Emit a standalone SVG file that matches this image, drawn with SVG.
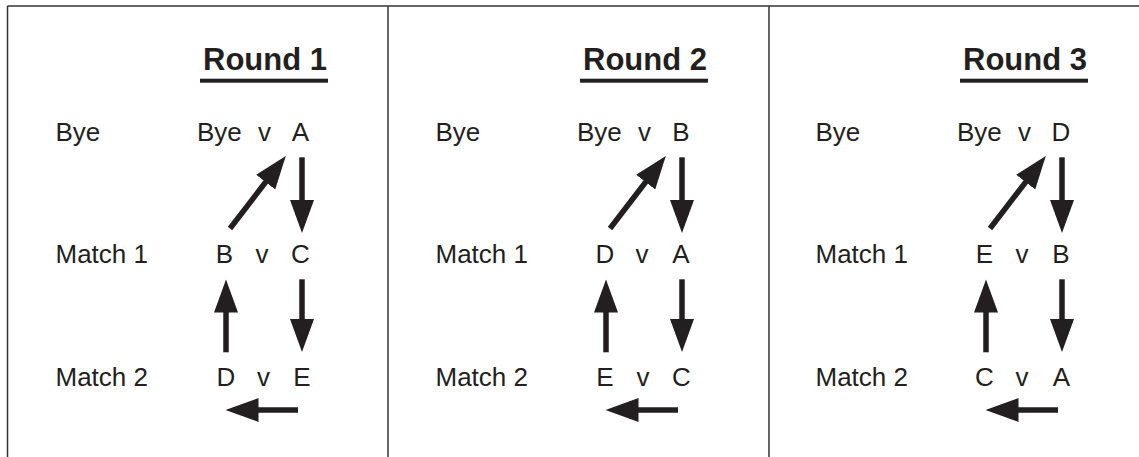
<svg xmlns="http://www.w3.org/2000/svg" width="1139" height="457" viewBox="0 0 1139 457">
<style>
  .t { font-family: "Liberation Sans", Arial, sans-serif; font-size: 26px; fill: #231f20; }
  .m { text-anchor: middle; }
  .title { font-family: "Liberation Sans", Arial, sans-serif; font-size: 31px; font-weight: bold; fill: #231f20; text-anchor: middle; }
  .frame { stroke: #333; stroke-width: 1.5; fill: none; }
  .ul { fill: #231f20; }
  .arr { stroke: #231f20; stroke-width: 5.5; fill: none; marker-end: url(#head); }
</style>
<defs>
  <marker id="head" markerUnits="userSpaceOnUse" markerWidth="34" markerHeight="25" viewBox="0 -12.5 34 25" refX="1" refY="0" orient="auto">
    <path d="M0,-12 L33,0 L0,12 Z" fill="#231f20"/>
  </marker>
</defs>
<rect width="1139" height="457" fill="#fff"/>
<g id="frame" class="frame">
  <line x1="7.5" y1="6" x2="1139" y2="6"/>
  <line x1="7.5" y1="6" x2="7.5" y2="457"/>
  <line x1="388" y1="6" x2="388" y2="457"/>
  <line x1="769" y1="6" x2="769" y2="457"/>
</g>
<g id="round1">
  <g id="r1-title"><text class="title" x="265" y="69.5">Round 1</text><rect class="ul" x="200" y="78.7" width="128" height="4"/></g>
  <g id="r1-lbl-bye"><text class="t" x="55.5" y="141">Bye</text></g>
  <g id="r1-lbl-m1"><text class="t" x="55.5" y="263.3">Match 1</text></g>
  <g id="r1-lbl-m2"><text class="t" x="55.5" y="385.7">Match 2</text></g>
  <g id="r1-bye"><text class="t" x="197" y="141">Bye</text><text class="t m" x="264.5" y="141">v</text><text class="t m" x="300.5" y="141">A</text></g>
  <g id="r1-m1"><text class="t m" x="224.5" y="263.3">B</text><text class="t m" x="262" y="263.3">v</text><text class="t m" x="300.5" y="263.3">C</text></g>
  <g id="r1-m2"><text class="t m" x="226" y="385.7">D</text><text class="t m" x="263.5" y="385.7">v</text><text class="t m" x="302" y="385.7">E</text></g>
</g>
<g id="round2" transform="translate(380,0)">
  <g id="r2-title"><text class="title" x="265" y="69.5">Round 2</text><rect class="ul" x="200" y="78.7" width="128" height="4"/></g>
  <g id="r2-lbl-bye"><text class="t" x="55.5" y="141">Bye</text></g>
  <g id="r2-lbl-m1"><text class="t" x="55.5" y="263.3">Match 1</text></g>
  <g id="r2-lbl-m2"><text class="t" x="55.5" y="385.7">Match 2</text></g>
  <g id="r2-bye"><text class="t" x="197" y="141">Bye</text><text class="t m" x="264.5" y="141">v</text><text class="t m" x="301" y="141">B</text></g>
  <g id="r2-m1"><text class="t m" x="225" y="263.3">D</text><text class="t m" x="262" y="263.3">v</text><text class="t m" x="301" y="263.3">A</text></g>
  <g id="r2-m2"><text class="t m" x="225" y="385.7">E</text><text class="t m" x="263" y="385.7">v</text><text class="t m" x="301.5" y="385.7">C</text></g>
</g>
<g id="round3" transform="translate(760,0)">
  <g id="r3-title"><text class="title" x="265" y="69.5">Round 3</text><rect class="ul" x="200" y="78.7" width="128" height="4"/></g>
  <g id="r3-lbl-bye"><text class="t" x="55.5" y="141">Bye</text></g>
  <g id="r3-lbl-m1"><text class="t" x="55.5" y="263.3">Match 1</text></g>
  <g id="r3-lbl-m2"><text class="t" x="55.5" y="385.7">Match 2</text></g>
  <g id="r3-bye"><text class="t" x="197" y="141">Bye</text><text class="t m" x="264.5" y="141">v</text><text class="t m" x="301" y="141">D</text></g>
  <g id="r3-m1"><text class="t m" x="224.5" y="263.3">E</text><text class="t m" x="262" y="263.3">v</text><text class="t m" x="301" y="263.3">B</text></g>
  <g id="r3-m2"><text class="t m" x="224.5" y="385.7">C</text><text class="t m" x="262" y="385.7">v</text><text class="t m" x="301.5" y="385.7">A</text></g>
</g>
<g id="connectors">
  <g id="c1">
    <path class="arr" d="M302,157.3 L302,201"/>
    <path class="arr" d="M302,279.3 L302,320"/>
    <path class="arr" d="M226,352.3 L226,311.5"/>
    <path class="arr" d="M298,410 L257.5,410"/>
    <path class="arr" d="M230,228.5 L266.3,181.3"/>
  </g>
  <g id="c2" transform="translate(380,0)">
    <path class="arr" d="M302,157.3 L302,201"/>
    <path class="arr" d="M302,279.3 L302,320"/>
    <path class="arr" d="M226,352.3 L226,311.5"/>
    <path class="arr" d="M298,410 L257.5,410"/>
    <path class="arr" d="M230,228.5 L266.3,181.3"/>
  </g>
  <g id="c3" transform="translate(760,0)">
    <path class="arr" d="M302,157.3 L302,201"/>
    <path class="arr" d="M302,279.3 L302,320"/>
    <path class="arr" d="M226,352.3 L226,311.5"/>
    <path class="arr" d="M298,410 L257.5,410"/>
    <path class="arr" d="M230,228.5 L266.3,181.3"/>
  </g>
</g>
</svg>
